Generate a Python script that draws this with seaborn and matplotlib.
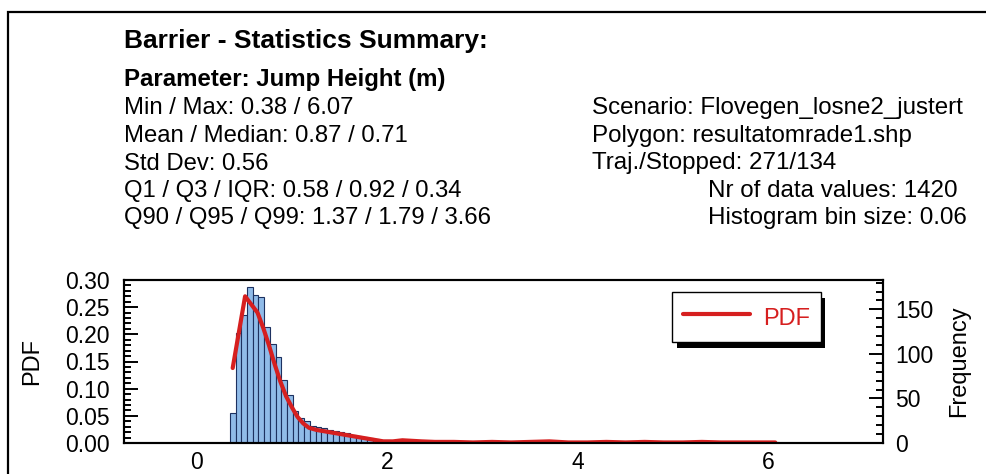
import numpy as np
import pandas as pd
import matplotlib
matplotlib.use('Agg')
import matplotlib.pyplot as plt
import matplotlib.patheffects as pe
from matplotlib.patches import Rectangle
from matplotlib.ticker import MultipleLocator, FormatStrFormatter
import seaborn as sns

# --- data ---
title = 'Barrier - Statistics Summary:'
param_line = 'Parameter: Jump Height (m)'
left_lines = ['Min / Max: 0.38 / 6.07',
              'Mean / Median: 0.87 / 0.71',
              'Std Dev: 0.56',
              'Q1 / Q3 / IQR: 0.58 / 0.92 / 0.34',
              'Q90 / Q95 / Q99: 1.37 / 1.79 / 3.66']
right_lines = ['Scenario: Flovegen_losne2_justert',
               'Polygon: resultatomrade1.shp',
               'Traj./Stopped: 271/134']
right_lines_indented = ['Nr of data values: 1420',
                        'Histogram bin size: 0.06']

bin_start = 0.38   # first bin centre (= min value)
bin_size = 0.06
pdf_heights = [
    0.056, 0.203, 0.236, 0.287, 0.272, 0.269, 0.213, 0.182, 0.159, 0.116,
    0.088, 0.059, 0.046, 0.040, 0.032, 0.030, 0.027, 0.024, 0.022, 0.020,
    0.019, 0.015, 0.013, 0.011, 0.009, 0.007, 0.006, 0.005, 0.004, 0.004,
    0.005, 0.004, 0.003, 0.003, 0.002, 0.002, 0.002, 0.001, 0.002, 0.001,
    0.001, 0.002, 0.001, 0.001, 0.002, 0.001, 0.000, 0.001, 0.002, 0.001,
    0.001, 0.003, 0.002, 0.001, 0.001, 0.001, 0.000, 0.001, 0.001, 0.002,
    0.001, 0.001, 0.000, 0.001, 0.001, 0.002, 0.001, 0.000, 0.001, 0.001,
    0.001, 0.002, 0.001, 0.000, 0.001, 0.001, 0.001, 0.000, 0.001, 0.001,
    0.000, 0.001, 0.001, 0.000, 0.001, 0.001, 0.000, 0.000, 0.001, 0.000,
    0.001, 0.000, 0.000, 0.001, 0.000, 0.001,
]

pdf_x = [0.38, 0.51, 0.64, 0.70, 0.76, 0.82, 0.88, 0.94, 1.00, 1.06,
         1.12, 1.18, 1.26, 1.36, 1.46, 1.56, 1.66, 1.76, 1.86, 1.96,
         2.06, 2.16, 2.26, 2.36, 2.50, 2.70, 2.90, 3.10, 3.30, 3.50,
         3.70, 3.90, 4.10, 4.30, 4.50, 4.70, 4.90, 5.10, 5.30, 5.50,
         5.70, 5.90, 6.07]
pdf_y = [0.138, 0.270, 0.240, 0.212, 0.180, 0.145, 0.113, 0.086, 0.066, 0.048,
         0.036, 0.028, 0.024, 0.021, 0.018, 0.015, 0.012, 0.009, 0.006, 0.003,
         0.003, 0.005, 0.004, 0.003, 0.002, 0.002, 0.001, 0.002, 0.001, 0.002,
         0.003, 0.001, 0.001, 0.002, 0.001, 0.002, 0.001, 0.001, 0.002, 0.001,
         0.001, 0.001, 0.001]

freq_max = 183

sns.set_style('white')
plt.rcParams['font.family'] = ['Liberation Sans', 'DejaVu Sans']
plt.rcParams.update({'text.color': 'black', 'axes.labelcolor': 'black',
                     'xtick.color': 'black', 'ytick.color': 'black'})

W, H = 986, 474
fig = plt.figure(figsize=(W / 100, H / 100), dpi=100)

# outer frame (right / bottom edges run off the picture)
fig.add_artist(Rectangle((8 / W, -0.1), 2.0, 1 - 12 / H + 0.1,
                         transform=fig.transFigure, fill=False,
                         edgecolor='black', linewidth=1.6))

# --- summary text ---
def fy(px):
    return 1 - px / H

fig.text(124 / W, fy(48), title, fontsize=19, fontweight='bold', va='baseline')
fig.text(124 / W, fy(86), param_line, fontsize=17.3, fontweight='bold', va='baseline')
rows = [114, 142, 169.5, 197, 224]
for i, s in enumerate(left_lines):
    fig.text(124 / W, fy(rows[i]), s, fontsize=17.2, va='baseline')
for i, s in enumerate(right_lines):
    fig.text(592 / W, fy(rows[i]), s, fontsize=17.4, va='baseline')
for i, s in enumerate(right_lines_indented):
    fig.text(708 / W, fy(rows[3 + i]), s, fontsize=17.4, va='baseline')

# --- histogram + pdf ---
ax = fig.add_axes([124 / W, 31 / H, 759 / W, 163 / H])
hist_df = pd.DataFrame({
    'center': bin_start + bin_size * np.arange(len(pdf_heights)),
    'pdf': pdf_heights,
})
lo = bin_start - bin_size / 2
sns.histplot(data=hist_df, x='center', weights='pdf', binwidth=bin_size,
             binrange=(lo, lo + bin_size * len(pdf_heights)), ax=ax,
             color='#90bbe8', edgecolor='#1d3160', linewidth=0.8, alpha=1)
sns.lineplot(x=pdf_x, y=pdf_y, ax=ax, color='#d61f1f', linewidth=3.0,
             label='PDF', sort=False)

ax.set_xlim(-0.76, 7.2)
ax.set_ylim(0, 0.30)
ax.xaxis.set_major_locator(MultipleLocator(2))
ax.xaxis.set_minor_locator(MultipleLocator(0.5))
ax.yaxis.set_major_locator(MultipleLocator(0.05))
ax.yaxis.set_minor_locator(MultipleLocator(0.01))
ax.yaxis.set_major_formatter(FormatStrFormatter('%.2f'))
ax.tick_params(which='both', direction='in', top=False, right=False,
               width=1.4, color='black', labelsize=16.5)
ax.tick_params(which='major', length=10)
ax.tick_params(which='minor', length=5)
ax.tick_params(axis='y', pad=10)
ax.tick_params(axis='x', pad=6)
ax.set_xlabel('')
ax.set_ylabel('PDF', fontsize=17)
ax.yaxis.set_label_coords(-0.106, 0.5)
for sp in ax.spines.values():
    sp.set_color('black')
    sp.set_linewidth(1.5)

ax2 = ax.twinx()
ax2.set_ylim(0, freq_max)
ax2.yaxis.set_major_locator(MultipleLocator(50))
ax2.yaxis.set_minor_locator(MultipleLocator(10))
ax2.tick_params(which='both', direction='in', width=1.4, color='black',
                labelsize=16.5, pad=9)
ax2.tick_params(which='major', length=10)
ax2.tick_params(which='minor', length=5)
ax2.set_ylabel('Frequency', fontsize=17)
ax2.yaxis.set_label_coords(1.0856, 0.5)
for sp in ax2.spines.values():
    sp.set_color('black')
    sp.set_linewidth(1.5)

leg = ax.legend(loc='upper right', bbox_to_anchor=(0.918, 0.926),
                fontsize=17, frameon=True, fancybox=False, framealpha=1,
                edgecolor='black', handlelength=2.85, handletextpad=0.55,
                handleheight=1.5, borderpad=0.45, borderaxespad=0,
                labelcolor='#d61f1f')
leg.get_frame().set_linewidth(1.0)
leg.legendPatch.set_path_effects([
    pe.SimplePatchShadow(offset=(3.2, -4.2), shadow_rgbFace='black', alpha=1),
    pe.Normal()])

fig.savefig('out.png', dpi=100)
